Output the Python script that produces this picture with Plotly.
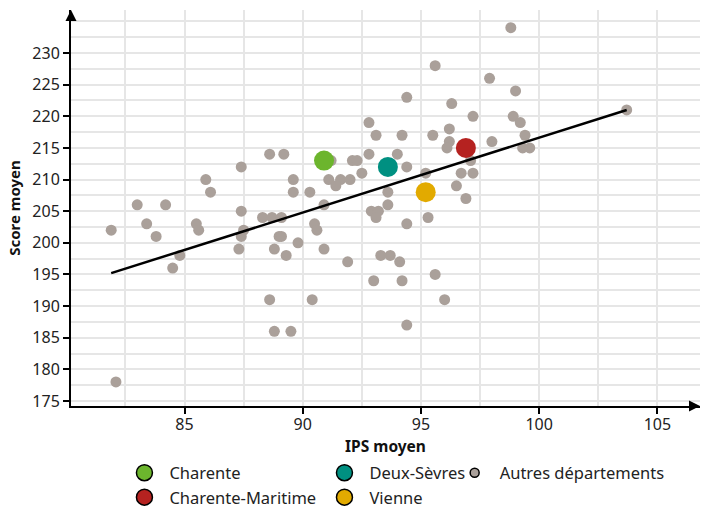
import plotly.graph_objects as go

# Autres départements (IPS moyen, Score moyen)
gray_x = [88.6, 89.2, 87.4, 85.9, 89.6, 86.1, 89.6, 90.3, 83.0, 84.2, 87.4,
          81.9, 83.4, 83.8, 85.5, 85.6, 87.5, 87.4, 87.3, 88.3, 88.7, 89.1, 89.0, 89.1,
          89.8, 88.8, 89.3, 84.8, 84.5, 88.6, 90.4, 88.8, 89.5, 82.1,
          90.9, 92.9, 93.2, 93.1, 93.6, 90.5, 90.6, 90.9, 91.9, 93.3, 93.7, 94.1, 93.0,
          94.2, 94.4, 95.3, 95.6, 96.0, 94.4, 96.9,
          98.8, 95.6, 97.9, 99.0, 94.4, 96.3, 97.2, 98.9, 99.2, 92.8, 93.1, 94.2, 95.5,
          99.4, 96.2, 96.2, 96.1, 98.0, 99.3, 99.6, 97.1, 96.7, 97.2, 96.5, 92.8, 94.0,
          92.1, 92.3, 91.2, 94.4, 92.5, 91.1, 91.6, 92.0, 91.4, 93.6, 95.2, 103.7]
gray_y = [214, 214, 212, 210, 210, 208, 208, 208, 206, 206, 205,
          202, 203, 201, 203, 202, 202, 201, 199, 204, 204, 204, 201, 201,
          200, 199, 198, 198, 196, 191, 191, 186, 186, 178,
          206, 205, 205, 204, 206, 203, 202, 199, 197, 198, 198, 197, 194,
          194, 203, 204, 195, 191, 187, 207,
          234, 228, 226, 224, 223, 222, 220, 220, 219, 219, 217, 217, 217,
          217, 218, 216, 215, 216, 215, 215, 213, 211, 211, 209, 214, 214,
          213, 213, 213, 212, 211, 210, 210, 210, 209, 208, 211, 221]

dept_names = ["Charente", "Charente-Maritime", "Deux-Sèvres", "Vienne"]
dept_x = [90.9, 96.9, 93.6, 95.2]
dept_y = [213, 215, 212, 208]
dept_colors = ["#6cb52d", "#b52220", "#009081", "#e2aa00"]
dept_legend = ["legend", "legend", "legend2", "legend2"]

trend_x = [81.9, 103.7]
trend_y = [195.2, 221.0]

x_ticks = [85, 90, 95, 100, 105]
y_ticks = [175, 180, 185, 190, 195, 200, 205, 210, 215, 220, 225, 230]

GRAY = "#aaa09a"
FONT = "Noto Sans"

fig = go.Figure()

fig.add_trace(go.Scatter(x=gray_x, y=gray_y, mode="markers",
                         marker=dict(size=11, color=GRAY, line=dict(width=0)),
                         showlegend=False, hoverinfo="x+y"))
fig.add_trace(go.Scatter(x=trend_x, y=trend_y, mode="lines",
                         line=dict(color="black", width=2.5),
                         showlegend=False, hoverinfo="skip"))
for n, x, y, c in zip(dept_names, dept_x, dept_y, dept_colors):
    fig.add_trace(go.Scatter(x=[x], y=[y], mode="markers", name=n,
                             marker=dict(size=20, color=c, line=dict(width=0)),
                             showlegend=False))

# legend entries
for n, c, lg in zip(dept_names, dept_colors, dept_legend):
    fig.add_trace(go.Scatter(x=[None], y=[None], mode="markers", name=n,
                             marker=dict(size=16, color=c, line=dict(width=1.5, color="black")),
                             legend=lg, showlegend=True))
fig.add_trace(go.Scatter(x=[None], y=[None], mode="markers", name="Autres départements",
                         marker=dict(size=9, color=GRAY, line=dict(width=1.5, color="black")),
                         legend="legend3", showlegend=True))

grid = "#e6e6e6"
axis_common = dict(showline=True, linecolor="black", linewidth=2, ticks="outside",
                   ticklen=6, tickwidth=1.5, tickcolor="black", showgrid=True,
                   gridcolor=grid, gridwidth=1.5, zeroline=False,
                   tickfont=dict(family=FONT, size=16, color="#222"),
                   minor=dict(dtick=2.5, tick0=0, showgrid=True, gridcolor=grid, gridwidth=1.5, ticks=""))

leg_common = dict(y=-0.125, xanchor="left", yanchor="top", orientation="v", itemwidth=40,
                  font=dict(family=FONT, size=16.5, color="#222"), bgcolor="rgba(0,0,0,0)")

fig.update_layout(
    width=703, height=512,
    margin=dict(l=71, r=3, t=10, b=106, autoexpand=False),
    plot_bgcolor="white", paper_bgcolor="white",
    font=dict(family=FONT, size=14, color="#222"),
    xaxis=dict(range=[80.2, 106.8], tickvals=x_ticks, automargin=False, ticklabelstandoff=-3,
               title=dict(text="<b>IPS moyen</b>", font=dict(family=FONT, size=15.5, color="#111"), standoff=2),
               **axis_common),
    yaxis=dict(range=[174.2, 236.8], tickvals=y_ticks, automargin=False,
               title=dict(text="<b>Score moyen</b>", font=dict(family=FONT, size=15, color="#111"), standoff=8),
               **axis_common),
    legend=dict(x=0.077, **leg_common),
    legend2=dict(x=0.395, **leg_common),
    legend3=dict(x=0.602, **leg_common),
    annotations=[
        dict(x=0, y=1, xref="paper", yref="paper", ax=0, ay=12, text="", showarrow=True,
             arrowhead=2, arrowsize=1.1, arrowwidth=2, arrowcolor="black", standoff=0),
        dict(x=1, y=0, xref="paper", yref="paper", ax=-12, ay=0, text="", showarrow=True,
             arrowhead=2, arrowsize=1.1, arrowwidth=2, arrowcolor="black", standoff=0),
    ],
)

fig.write_html("out.html", config={"displayModeBar": False},
               post_script="document.body.style.margin='0';")
